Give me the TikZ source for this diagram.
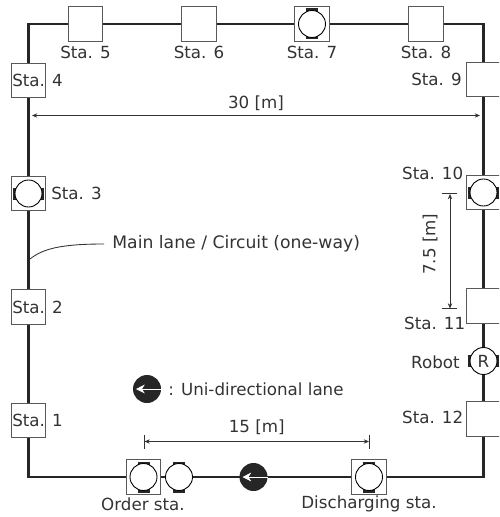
\documentclass[tikz,border=0pt]{standalone}
\usepackage{fontspec}
\setmainfont{DejaVu Sans}
\usetikzlibrary{arrows.meta, calc, backgrounds}

\newcommand{\cart}[4]{%
  \begin{scope}[shift={(#2)}, rotate=#3]
    \fill[pad] (-0.12, 0.2) rectangle (0.12, 0.31);
    \fill[pad] (-0.12, -0.2) rectangle (0.12, -0.31);
  \end{scope}
  \node[cartc] (#1) at (#2) {#4};
}

\begin{document}
\begin{tikzpicture}[
  box/.style={draw=black!65, fill=white, line width=0.6pt, minimum size=0.69cm, inner sep=0pt},
  cartc/.style={draw=black, fill=white, circle, line width=0.5pt, minimum size=0.54cm, inner sep=0pt, font=\fontsize{9.5}{11}\selectfont, text=black!80},
  pad/.style={black!85},
  lane/.style={line width=1.7pt, black!85, line cap=rect},
  lbl/.style={inner sep=0pt, font=\fontsize{9.5}{11}\selectfont, text=black!80},
  dim/.style={{Stealth[length=3pt, width=2.5pt]}-{Stealth[length=3pt, width=2.5pt]}, line width=0.4pt, black!80},
  tick/.style={line width=0.4pt, black!80},
  unidisc/.style={circle, fill=black!85, minimum size=0.56cm, inner sep=0pt},
  uniarr/.style={-{Stealth[length=5pt, width=5pt]}, white, line width=0.5pt},
]
\useasboundingbox (0, 0) rectangle (9.98, -10.34);
\clip (0, 0) rectangle (9.98, -10.34);

% corners of the circuit
\coordinate (tl) at (0.57, -0.48);
\coordinate (tr) at (9.67, -0.48);
\coordinate (br) at (9.67, -9.54);
\coordinate (bl) at (0.57, -9.54);

% stations
\node[box] (sta1) at (0.57, -8.41) {};
\node[box] (sta2) at (0.57, -6.14) {};
\node[box] (sta3) at (0.57, -3.87) {};
\node[box] (sta4) at (0.57, -1.61) {};
\node[box] (sta5) at (1.71, -0.48) {};
\node[box] (sta6) at (3.98, -0.48) {};
\node[box] (sta7) at (6.24, -0.48) {};
\node[box] (sta8) at (8.52, -0.48) {};
\node[box] (sta9) at (9.67, -1.59) {};
\node[box] (sta10) at (9.67, -3.85) {};
\node[box] (sta11) at (9.67, -6.12) {};
\node[box] (sta12) at (9.67, -8.38) {};
\node[box] (order) at (2.87, -9.54) {};
\node[box] (discharge) at (7.38, -9.54) {};

% carts
\cart{cart3}{0.57, -3.87}{90}{}
\cart{cart7}{6.24, -0.48}{0}{}
\cart{cart10}{9.67, -3.85}{90}{}
\cart{cartorder}{2.87, -9.54}{0}{}
\cart{cartnext}{3.58, -9.54}{0}{}
\cart{cartdis}{7.38, -9.54}{0}{}
\cart{robot}{9.67, -7.22}{90}{R}

% one-way marks
\node[unidisc] (unilane) at (5.07, -9.54) {};
\node[unidisc] (unilegend) at (2.94, -7.78) {};
\draw[uniarr] (unilane.east) -- ($(unilane.center)+(-0.22, 0)$);
\draw[uniarr] (unilegend.east) -- ($(unilegend.center)+(-0.22, 0)$);

\begin{scope}[on background layer]
  \foreach \a/\b in {bl/sta1, sta1/sta2, sta2/sta3, sta3/sta4, sta4/tl, tl/sta5, sta5/sta6, sta6/sta7, sta7/sta8, sta8/tr, tr/sta9, sta9/sta10, sta10/sta11, sta11/robot, robot/sta12, sta12/br, br/discharge, discharge/unilane, unilane/cartnext, cartnext/order, order/bl}
    \draw[lane] (\a) -- (\b);
\end{scope}

% labels
\node[lbl, anchor=west] (lbl1) at (0.24, -8.41) {Sta.\hspace{0.42em}1};
\node[lbl, anchor=west] (lbl2) at (0.24, -6.14) {Sta.\hspace{0.42em}2};
\node[lbl, anchor=west] (lbl3) at (1.02, -3.87) {Sta. 3};
\node[lbl, anchor=west] (lbl4) at (0.24, -1.61) {Sta.\hspace{0.42em}4};
\node[lbl] (lbl5) at (1.71, -1.05) {Sta. 5};
\node[lbl] (lbl6) at (3.98, -1.05) {Sta. 6};
\node[lbl] (lbl7) at (6.24, -1.05) {Sta. 7};
\node[lbl] (lbl8) at (8.52, -1.05) {Sta. 8};
\node[lbl, anchor=east] (lbl9) at (9.24, -1.58) {Sta. 9};
\node[lbl, anchor=east] (lbl10) at (9.27, -3.47) {Sta. 10};
\node[lbl, anchor=east] (lbl11) at (9.31, -6.47) {Sta. 11};
\node[lbl, anchor=east] (lbl12) at (9.27, -8.34) {Sta. 12};
\node[lbl, anchor=east] (lblrobot) at (9.2, -7.24) {Robot};
\node[lbl] (lblorder) at (2.86, -10.08) {Order sta.};
\node[lbl] (lbldis) at (7.38, -10.08) {Discharging sta.};
\node[lbl, anchor=west] (lbluni) at (3.36, -7.78) {: Uni-directional lane};

% main lane leader
\coordinate (lanept) at (0.6, -5.18);
\node[lbl, anchor=west, font=\fontsize{9.8}{11}\selectfont] (lblmain) at (2.24, -4.88) {Main lane / Circuit (one-way)};
\draw[line width=0.5pt, black!80] (lanept) .. controls (0.85, -4.98) and (1.2, -4.88) .. (2.08, -4.88);

% dimensions
\coordinate (w30a) at (0.64, -2.31);
\coordinate (w30b) at (9.6, -2.31);
\draw[dim] (w30a) -- node[lbl, above=0.09cm] (lbl30) {30 [m]} (w30b);

\coordinate (h75a) at (9.0, -3.88);
\coordinate (h75b) at (9.0, -6.17);
\draw[tick] (8.84, -3.86) -- (9.14, -3.86);
\draw[tick] (8.84, -6.16) -- (9.14, -6.16);
\draw[dim] (h75a) -- node[lbl, rotate=90, above=0.24cm, xshift=0.14cm] (lbl75) {7.5 [m]} (h75b);

\coordinate (w15a) at (2.89, -8.83);
\coordinate (w15b) at (7.38, -8.83);
\draw[tick] (2.89, -8.69) -- (2.89, -8.98);
\draw[tick] (7.38, -8.69) -- (7.38, -8.98);
\draw[dim] (w15a) -- node[lbl, above=0.13cm] (lbl15) {15 [m]} (w15b);

\end{tikzpicture}
\end{document}
